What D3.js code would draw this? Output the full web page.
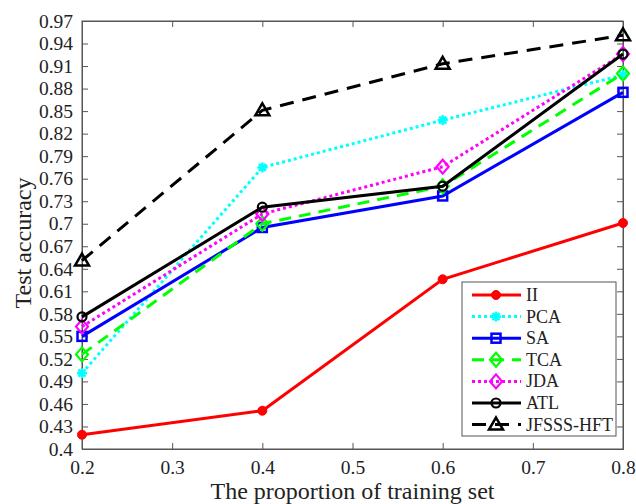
<!DOCTYPE html>
<html><head><meta charset="utf-8">
<script src="https://cdn.jsdelivr.net/npm/d3@7"></script>
<style>
body{margin:0;background:#fff;}
svg text{font-family:"Liberation Serif","Times New Roman",Tinos,Times,serif;fill:#222;}
</style></head>
<body><svg id="c" width="636" height="504"></svg>
<script>
const xValues = [0.2, 0.4, 0.6, 0.8];
const seriesNames = ["II","PCA","SA","TCA","JDA","ATL","JFSSS-HFT"];
const II    = [0.419, 0.451, 0.626, 0.701];
const PCA   = [0.501, 0.775, 0.838, 0.898];
const SA    = [0.550, 0.695, 0.737, 0.875];
const TCA   = [0.526, 0.700, 0.750, 0.900];
const JDA   = [0.563, 0.713, 0.776, 0.926];
const ATL   = [0.576, 0.722, 0.750, 0.926];
const JFSSS = [0.651, 0.851, 0.913, 0.951];
const yTickValues = [0.4,0.43,0.46,0.49,0.52,0.55,0.58,0.61,0.64,0.67,0.7,0.73,0.76,0.79,0.82,0.85,0.88,0.91,0.94,0.97];
const xTickValues = [0.2,0.3,0.4,0.5,0.6,0.7,0.8];

const styles = [
 {name:seriesNames[0], data:II, color:"#ff0000", dash:null, marker:"circleFilled"},
 {name:seriesNames[1], data:PCA, color:"#00ffff", dash:"3,3", marker:"star"},
 {name:seriesNames[2], data:SA, color:"#0000ff", dash:null, marker:"square"},
 {name:seriesNames[3], data:TCA, color:"#00ff00", dash:"12,8", marker:"diamond"},
 {name:seriesNames[4], data:JDA, color:"#ff00ff", dash:"3,3", marker:"diamond"},
 {name:seriesNames[5], data:ATL, color:"#000000", dash:null, marker:"circle"},
 {name:seriesNames[6], data:JFSSS, color:"#000000", dash:"14,9", marker:"triangle"}
];

const svg = d3.select("#c");
const L=82,R=623,T=21,B=449;
const x = d3.scaleLinear().domain([0.2,0.8]).range([L,R]);
const y = d3.scaleLinear().domain([0.4,0.97]).range([B,T]);
const fmt = v => String(+v.toFixed(2));
const FONT = '"Liberation Serif","Times New Roman",Tinos,Times,serif';

svg.append("rect").attr("x",L).attr("y",T).attr("width",R-L).attr("height",B-T)
  .attr("fill","none").attr("stroke","#555").attr("stroke-width",1);

const ax = svg.append("g").attr("transform",`translate(0,${B})`)
  .call(d3.axisBottom(x).tickValues(xTickValues).tickSize(-6).tickPadding(11).tickFormat(fmt));
const axT = svg.append("g").attr("transform",`translate(0,${T})`)
  .call(d3.axisTop(x).tickValues(xTickValues).tickSize(-6).tickFormat(""));
const ay = svg.append("g").attr("transform",`translate(${L},0)`)
  .call(d3.axisLeft(y).tickValues(yTickValues).tickSize(-6).tickPadding(9).tickFormat(fmt));
const ayR = svg.append("g").attr("transform",`translate(${R},0)`)
  .call(d3.axisRight(y).tickValues(yTickValues).tickSize(-6).tickFormat(""));
[ax,axT,ay,ayR].forEach(g=>{
  g.attr("font-family",FONT);
  g.select(".domain").attr("stroke","#555");
  g.selectAll(".tick line").attr("stroke","#555");
  g.selectAll("text").attr("font-size",19.5).attr("fill","#222");
});

svg.append("text").attr("x",(L+R)/2).attr("y",499).attr("text-anchor","middle")
  .attr("font-family",FONT).attr("font-size",24).text("The proportion of training set");
svg.append("text").attr("transform",`translate(31,243) rotate(-90)`)
  .attr("font-family",FONT).attr("text-anchor","middle").attr("font-size",24).text("Test accuracy");

function drawMarker(g, cx, cy, s){
  const c=s.color;
  if(s.marker==="circleFilled"){
    g.append("circle").attr("cx",cx).attr("cy",cy).attr("r",4.5).attr("fill",c).attr("stroke",c);
  } else if(s.marker==="circle"){
    g.append("circle").attr("cx",cx).attr("cy",cy).attr("r",4.5).attr("fill","none").attr("stroke",c).attr("stroke-width",2.2);
  } else if(s.marker==="square"){
    g.append("rect").attr("x",cx-4.5).attr("y",cy-4.5).attr("width",9).attr("height",9).attr("fill","none").attr("stroke",c).attr("stroke-width",2.5);
  } else if(s.marker==="diamond"){
    g.append("path").attr("d",`M${cx},${cy-7}L${cx+6},${cy}L${cx},${cy+7}L${cx-6},${cy}Z`).attr("fill","none").attr("stroke",c).attr("stroke-width",2.2);
  } else if(s.marker==="triangle"){
    g.append("path").attr("d",`M${cx},${cy-7}L${cx+7},${cy+5}L${cx-7},${cy+5}Z`).attr("fill","none").attr("stroke",c).attr("stroke-width",2.5);
  } else if(s.marker==="star"){
    const r=5;
    [[0,1],[1,0],[0.707,0.707],[0.707,-0.707]].forEach(([a,b])=>{
      g.append("line").attr("x1",cx-a*r).attr("y1",cy-b*r).attr("x2",cx+a*r).attr("y2",cy+b*r)
       .attr("stroke",c).attr("stroke-width",2.5);
    });
  }
}

const line = d3.line().x((d,i)=>x(xValues[i])).y(d=>y(d));
styles.forEach(s=>{
  const g = svg.append("g");
  g.append("path").datum(s.data).attr("d",line).attr("fill","none")
   .attr("stroke",s.color).attr("stroke-width",3)
   .attr("stroke-dasharray",s.dash);
  s.data.forEach((v,i)=>drawMarker(g,x(xValues[i]),y(v),s));
});

const lg = svg.append("g");
lg.append("rect").attr("x",462).attr("y",282).attr("width",154).attr("height",154)
  .attr("fill","#fff").attr("stroke","#555").attr("stroke-width",1);
styles.forEach((s,i)=>{
  const ly = 295 + i*21.6;
  lg.append("line").attr("x1",472).attr("x2",521).attr("y1",ly).attr("y2",ly)
    .attr("stroke",s.color).attr("stroke-width",3).attr("stroke-dasharray",s.dash);
  drawMarker(lg,496,ly,s);
  lg.append("text").attr("x",526).attr("y",ly+6).attr("font-family",FONT).attr("font-size",18).text(s.name);
});
</script></body></html>
